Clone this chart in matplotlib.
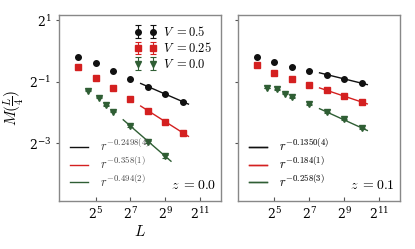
import numpy as np
import matplotlib
matplotlib.use("Agg")
import matplotlib.pyplot as plt
from matplotlib.lines import Line2D

plt.rcParams['mathtext.fontset'] = 'cm'
plt.rcParams['font.family'] = 'serif'
plt.rcParams['font.serif'] = ['DejaVu Serif']

# data
L_main = [16, 32, 64, 128, 256, 512, 1024]
L_green_z0 = [24, 36, 48, 64, 128, 256, 512]
L_green_z1 = [24, 36, 48, 64, 128, 256, 512, 1024]

M_black_z0 = [0.883, 0.763, 0.642, 0.536, 0.451, 0.379, 0.321]
M_red_z0 = [0.707, 0.551, 0.435, 0.339, 0.262, 0.204, 0.159]
M_green_z0 = [0.412, 0.351, 0.296, 0.255, 0.186, 0.130, 0.094]

M_black_z1 = [0.883, 0.785, 0.707, 0.646, 0.590, 0.536, 0.486]
M_red_z1 = [0.727, 0.611, 0.532, 0.463, 0.415, 0.361, 0.319]
M_green_z1 = [0.435, 0.423, 0.384, 0.354, 0.302, 0.252, 0.216, 0.176]

err_main = [0.003, 0.003, 0.003, 0.003, 0.003, 0.003, 0.003]
err_green_z0 = [0.003, 0.003, 0.003, 0.003, 0.003, 0.003, 0.003]
err_green_z1 = [0.003, 0.003, 0.003, 0.003, 0.003, 0.003, 0.003, 0.003]

fit_range_z0 = {'black': (256, 1024), 'red': (256, 1024), 'green': (128, 512)}
fit_range_z1 = {'black': (256, 1024), 'red': (256, 1024), 'green': (256, 1024)}

fit_labels_z0 = [r'$r^{-0.2498(4)}$', r'$r^{-0.358(1)}$', r'$r^{-0.494(2)}$']
fit_labels_z1 = [r'$r^{-0.1350(4)}$', r'$r^{-0.184(1)}$', r'$r^{-0.258(3)}$']
V_labels = [r'$V\ {=}0.5$', r'$V\ {=}0.25$', r'$V\ {=}0.0$']

c_black = '#111111'
c_red = '#d42020'
c_green = '#2f5e34'
colors = {'black': c_black, 'red': c_red, 'green': c_green}
markers = {'black': 'o', 'red': 's', 'green': 'v'}

fig = plt.figure(figsize=(4.15, 2.49), dpi=100)
ax1 = fig.add_axes([0.142, 0.193, 0.391, 0.747])
ax2 = fig.add_axes([0.573, 0.193, 0.391, 0.747])


def draw_panel(ax, series, ranges, fit_labels, ztxt):
    handles = []
    for key, L, M, e in series:
        h = ax.errorbar(L, M, yerr=e, fmt=markers[key], color=colors[key],
                        ms=4, capsize=2.5, elinewidth=0.8, capthick=0.8)
        handles.append(h)
        lo, hi = ranges[key]
        Ls = np.array([l for l in L if lo <= l <= hi], dtype=float)
        Ms = np.array([m for l, m in zip(L, M) if lo <= l <= hi])
        p = np.polyfit(np.log2(Ls), np.log2(Ms), 1)
        xx = np.array([0.75 * lo, 1.25 * hi])
        ax.plot(xx, 2 ** np.polyval(p, np.log2(xx)), color=colors[key], lw=1, zorder=1)
    ax.set_xscale('log', base=2)
    ax.set_yscale('log', base=2)
    ax.set_xlim(2 ** 2.9, 2 ** 12.2)
    ax.set_ylim(2 ** -4.87, 2 ** 1.18)
    ax.set_xticks([2 ** 5, 2 ** 7, 2 ** 9, 2 ** 11])
    ax.set_yticks([2, 0.5, 0.125])
    ax.minorticks_off()
    ax.tick_params(axis='x', direction='in', length=3, labelsize=9, color='#555555', pad=4)
    ax.tick_params(axis='y', direction='out', length=2, labelsize=9, color='#555555')
    for s in ax.spines.values():
        s.set_color('#888888')
        s.set_linewidth(1)
    fit_handles = [Line2D([], [], color=c, lw=1) for c in (c_black, c_red, c_green)]
    leg = ax.legend(fit_handles, fit_labels, loc='lower left', frameon=False,
                    fontsize=9, handlelength=1.45, labelcolor='#444444',
                    borderaxespad=0.5, labelspacing=0.1, handletextpad=0.95)
    ax.add_artist(leg)
    ax.text(0.97, 0.05, ztxt, transform=ax.transAxes, ha='right', va='bottom', fontsize=10)
    return handles


h = draw_panel(ax1, [('black', L_main, M_black_z0, err_main),
                     ('red', L_main, M_red_z0, err_main),
                     ('green', L_green_z0, M_green_z0, err_green_z0)],
               fit_range_z0, fit_labels_z0, r'$z\ {=}0.0$')
ax1.legend(h, V_labels, loc='upper right', frameon=False, numpoints=2,
           fontsize=9, borderaxespad=0.4, handletextpad=0.5, labelspacing=0.2,
           handlelength=1.8)

draw_panel(ax2, [('black', L_main, M_black_z1, err_main),
                 ('red', L_main, M_red_z1, err_main),
                 ('green', L_green_z1, M_green_z1, err_green_z1)],
           fit_range_z1, fit_labels_z1, r'$z\ {=}0.1$')
ax2.set_yticklabels([])

ax1.set_xlabel(r'$L$', fontsize=11, labelpad=1)
ax1.set_ylabel(r'$M(\frac{L}{4})$', fontsize=11, labelpad=2)

fig.savefig('out.png', dpi=100)
